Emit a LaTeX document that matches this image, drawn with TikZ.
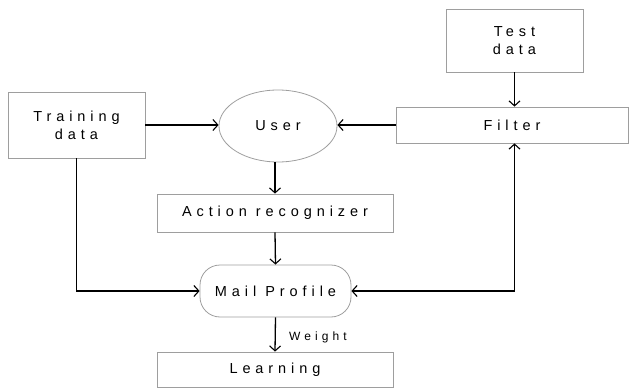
\documentclass[tikz,border=0pt]{standalone}
\usepackage{fontspec}
\setmainfont{Liberation Sans}[LetterSpace=34]
\usetikzlibrary{arrows.meta,shapes.geometric}
\begin{document}
\begin{tikzpicture}[x=1pt,y=-1pt,
  box/.style={draw=black!38,line width=0.8pt,rectangle,inner sep=0pt,font=\fontsize{14.5}{18}\selectfont,align=center},
  oval/.style={draw=black!38,line width=0.8pt,ellipse,inner sep=0pt,font=\fontsize{14.5}{18}\selectfont},
  tip/.tip={Straight Barb[length=5pt,width=11pt,line width=1.1pt]},
  arr/.style={line width=1.3pt,-tip},
  biarr/.style={line width=1.3pt,tip-tip},
  lbl/.style={font=\fontsize{12}{14}\selectfont}]
\useasboundingbox (0,0) rectangle (630,388);
\node[box,minimum width=137pt,minimum height=66pt] (train) at (76.5,125) {Training\\data};
\node[oval,minimum width=118pt,minimum height=72pt] (user) at (278,126) {User};
\node[box,minimum width=137pt,minimum height=63pt] (test) at (514.5,40.5) {Test\\data};
\node[box,minimum width=232pt,minimum height=36pt] (filter) at (512,125) {Filter};
\node[box,minimum width=236pt,minimum height=38pt] (action) at (275,213) {Action recognizer};
\node[box,rounded corners=20pt,minimum width=151pt,minimum height=52pt] (mail) at (275.5,291) {Mail Profile};
\node[box,minimum width=236pt,minimum height=35pt] (learn) at (275,369.5) {Learning};
\draw[arr] (train.east) -- (user.west |- train.east);
\draw[arr] (filter.west) -- (user.east |- filter.west);
\draw[arr] (test.south) -- (filter.north -| test.south);
\draw[arr] (user.south -| action.north) -- (action.north);
\draw[arr] (action.south) -- (mail.north);
\draw[arr] (mail.south) -- node[lbl,right,xshift=10pt,yshift=-3pt] (w) {Weight} (learn.north);
\draw[arr] (train.south) |- (mail.west);
\draw[biarr] (filter.south -| test.south) |- (mail.east);
\end{tikzpicture}
\end{document}
